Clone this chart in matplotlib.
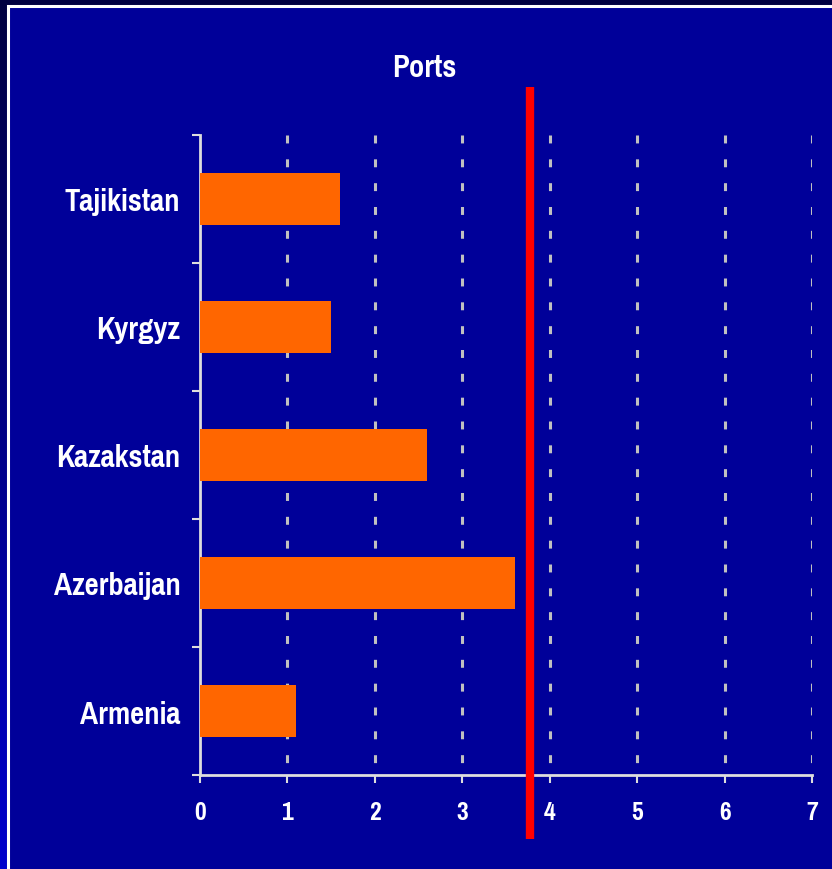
import matplotlib
matplotlib.use("Agg")
import matplotlib.pyplot as plt
import numpy as np
from matplotlib.patches import Rectangle
from matplotlib.colors import LinearSegmentedColormap

categories = ["Armenia", "Azerbaijan", "Kazakstan", "Kyrgyz", "Tajikistan"]
values = [1.1, 3.6, 2.6, 1.5, 1.6]
threshold = 3.78
x_ticks = [0, 1, 2, 3, 4, 5, 6, 7]
title = "Ports"

FONT = ['Pragati Narrow', 'Roboto Condensed', 'Liberation Sans', 'DejaVu Sans']
plt.rcParams['font.family'] = FONT

W, H = 832, 870
fig = plt.figure(figsize=(W / 100, H / 100), dpi=100)

# background gradient strip + panel
bg = fig.add_axes([0, 0, 1, 1], zorder=-10)
bg.set_axis_off()
cmap = LinearSegmentedColormap.from_list("g", ["#000040", "#0000CC"])
grad = np.linspace(0, 1, 256).reshape(-1, 1)
bg.imshow(grad, aspect="auto", cmap=cmap, extent=[0, W, H, 0])
bg.set_xlim(0, W)
bg.set_ylim(H, 0)
bg.add_patch(Rectangle((8, 7), W + 10, H + 10, facecolor="#000099",
                       edgecolor="white", linewidth=2.2))

ax = fig.add_axes([200 / W, 1 - 776 / H, 612 / W, 640 / H])
ax.set_facecolor("none")
y = np.arange(len(categories))
ax.barh(y, values, height=0.4, color="#FF6600", zorder=3)
ax.set_xlim(0, 7)
ax.set_ylim(-0.5, len(categories) - 0.5)

ax.set_xticks(x_ticks)
ax.set_xticklabels([str(t) for t in x_ticks], fontsize=20, fontweight="bold", color="white")
ax.set_yticks(y)
ax.set_yticklabels(categories, fontsize=24, fontweight="bold", color="white")
ax.set_yticks(np.arange(-0.5, len(categories), 1.0), minor=True)
ax.tick_params(axis="y", which="major", length=0, pad=14)
ax.tick_params(axis="y", which="minor", length=6, width=1.5, color="#DDDDDD", direction="out")
ax.tick_params(axis="x", which="major", length=6, width=1.5, color="#DDDDDD", direction="out", pad=12)

for s in ["top", "right"]:
    ax.spines[s].set_visible(False)
for s in ["left", "bottom"]:
    ax.spines[s].set_color("#DDDDDD")
    ax.spines[s].set_linewidth(2)
ax.spines["bottom"].set_bounds(0, 7)

ytop, ybot = len(categories) - 0.5, -0.5
for xv in x_ticks[1:]:
    ax.plot([xv, xv], [ytop, ybot], color="#C0C0C0", linewidth=2.2,
            dashes=(2.6, 5.2), zorder=1, solid_capstyle="butt")

ax.axvline(threshold, ymin=-0.1, ymax=1.075, color="#FF0000", linewidth=6,
           clip_on=False, zorder=5, solid_capstyle="butt")

fig.text(424 / W, 1 - 68 / H, title, ha="center", va="center", fontsize=24,
         fontweight="bold", color="white")

fig.savefig("out.png", dpi=100, facecolor=fig.get_facecolor())
